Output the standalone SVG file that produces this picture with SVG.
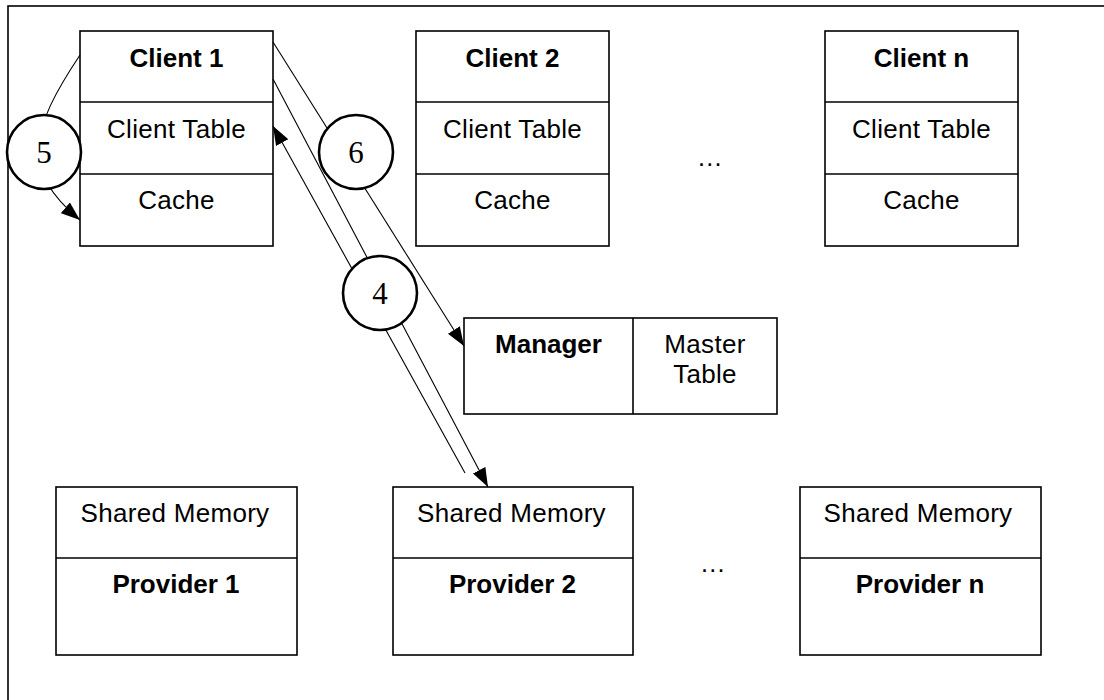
<svg xmlns="http://www.w3.org/2000/svg" width="1104" height="700" viewBox="0 0 1104 700">
<style>
.box{fill:#fff;stroke:#000;stroke-width:1.6}
.div{stroke:#000;stroke-width:1.6}
.t{font-family:"Liberation Sans",Arial,sans-serif;font-size:26px;text-anchor:middle;fill:#000;letter-spacing:0.3px}
.b{font-weight:bold;letter-spacing:0}
.conn{fill:none;stroke:#000;stroke-width:1.1}
.circ{fill:#fff;stroke:#000;stroke-width:2.6}
.num{font-family:"Liberation Serif","Times New Roman",serif;font-size:31px;text-anchor:middle;fill:#000}
</style>
<defs>
<marker id="ah" markerUnits="userSpaceOnUse" markerWidth="20" markerHeight="16" refX="19" refY="7" orient="auto" viewBox="0 0 20 14">
<path d="M0,0 L19,7 L0,14 Z" fill="#000"/>
</marker>
</defs>
<rect x="0" y="0" width="1104" height="700" fill="#fff"/>
<rect x="8" y="6" width="1300" height="900" fill="none" stroke="#000" stroke-width="1.6"/>

<g id="client1">
<rect class="box" x="80" y="31" width="193" height="215"/>
<line class="div" x1="80" y1="102" x2="273" y2="102"/>
<line class="div" x1="80" y1="174" x2="273" y2="174"/>
<text class="t b" x="176.5" y="67">Client 1</text>
<text class="t" x="176.5" y="138">Client Table</text>
<text class="t" x="176.5" y="209">Cache</text>
</g>
<g id="client2">
<rect class="box" x="416" y="31" width="193" height="215"/>
<line class="div" x1="416" y1="102" x2="609" y2="102"/>
<line class="div" x1="416" y1="174" x2="609" y2="174"/>
<text class="t b" x="512.5" y="67">Client 2</text>
<text class="t" x="512.5" y="138">Client Table</text>
<text class="t" x="512.5" y="209">Cache</text>
</g>
<g id="clientn">
<rect class="box" x="825" y="31" width="193" height="215"/>
<line class="div" x1="825" y1="102" x2="1018" y2="102"/>
<line class="div" x1="825" y1="174" x2="1018" y2="174"/>
<text class="t b" x="921.5" y="67">Client n</text>
<text class="t" x="921.5" y="138">Client Table</text>
<text class="t" x="921.5" y="209">Cache</text>
</g>
<g id="dots-clients"><text class="t" x="710" y="166">…</text></g>

<g id="manager">
<rect class="box" x="464" y="318" width="313" height="96"/>
<line class="div" x1="633" y1="318" x2="633" y2="414"/>
<text class="t b" x="548.5" y="353">Manager</text>
<text class="t" x="705" y="353">Master</text>
<text class="t" x="705" y="383">Table</text>
</g>

<g id="provider1">
<rect class="box" x="56" y="487" width="241" height="168"/>
<line class="div" x1="56" y1="558" x2="297" y2="558"/>
<text class="t" x="175" y="522">Shared Memory</text>
<text class="t b" x="176" y="593">Provider 1</text>
</g>
<g id="provider2">
<rect class="box" x="393" y="487" width="240" height="168"/>
<line class="div" x1="393" y1="558" x2="633" y2="558"/>
<text class="t" x="511.5" y="522">Shared Memory</text>
<text class="t b" x="512.5" y="593">Provider 2</text>
</g>
<g id="providern">
<rect class="box" x="800" y="487" width="241" height="168"/>
<line class="div" x1="800" y1="558" x2="1041" y2="558"/>
<text class="t" x="918" y="522">Shared Memory</text>
<text class="t b" x="920" y="593">Provider n</text>
</g>
<g id="dots-providers"><text class="t" x="713" y="572">…</text></g>

<g id="connectors">
<path class="conn" d="M80,55 C30,130 20,170 80,220" marker-end="url(#ah)"/>
<line class="conn" x1="273" y1="42" x2="464" y2="346" marker-end="url(#ah)"/>
<line class="conn" x1="273" y1="79" x2="488" y2="487" marker-end="url(#ah)"/>
<line class="conn" x1="465" y1="473" x2="273" y2="126" marker-end="url(#ah)"/>
</g>

<g id="step5"><circle class="circ" cx="44" cy="152" r="37"/><text class="num" x="44" y="163">5</text></g>
<g id="step6"><circle class="circ" cx="356" cy="152" r="37"/><text class="num" x="356" y="163">6</text></g>
<g id="step4"><circle class="circ" cx="380" cy="293" r="37"/><text class="num" x="380" y="304">4</text></g>
</svg>
